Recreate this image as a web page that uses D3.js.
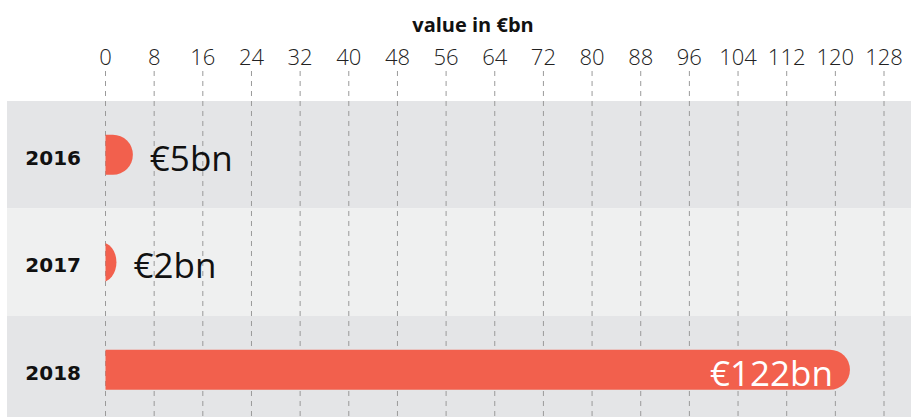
<!DOCTYPE html>
<html>
<head>
<meta charset="utf-8">
<script src="https://cdn.jsdelivr.net/npm/d3@7"></script>
<style>
  html, body { margin: 0; padding: 0; background: #fff; }
  svg { display: block; }
</style>
</head>
<body>
<div id="chart"></div>
<script>
// data
const years = ['2016', '2017', '2018'];
const values = [4.5, 1.8, 122.4];
const valueLabels = ['€5bn', '€2bn', '€122bn'];
const tickValues = [0, 8, 16, 24, 32, 40, 48, 56, 64, 72, 80, 88, 96, 104, 112, 120, 128];

const width = 911;
const height = 417;
const barColor = '#f2604d';
const bandColors = ['#e4e5e7', '#eff0f0'];
const barH = 40;
const r = barH / 2;

const svg = d3.select('#chart').append('svg')
    .attr('width', width)
    .attr('height', height);

const x = d3.scaleLinear().domain([0, 128]).range([105.5, 884]);
const y = d3.scaleBand().domain(years).range([101, 423.5]).padding(0);

// row bands
svg.append('g').selectAll('rect')
    .data(years)
    .enter()
    .append('rect')
    .attr('x', 7)
    .attr('y', d => y(d))
    .attr('width', width - 7)
    .attr('height', y.bandwidth())
    .attr('fill', (d, i) => bandColors[i % 2]);

// dashed gridlines
svg.append('g').selectAll('line')
    .data(tickValues)
    .enter()
    .append('line')
    .attr('x1', d => x(d))
    .attr('x2', d => x(d))
    .attr('y1', 71)
    .attr('y2', height)
    .attr('stroke', '#9a9a9a')
    .attr('stroke-width', 1)
    .attr('stroke-dasharray', '5,5');

// tick labels
svg.append('g').selectAll('text')
    .data(tickValues)
    .enter()
    .append('text')
    .attr('x', d => x(d))
    .attr('y', 65)
    .attr('text-anchor', 'middle')
    .style('font-family', "'Open Sans', sans-serif")
    .style('font-weight', '300')
    .style('font-size', '22px')
    .style('fill', '#222')
    .text(d => d);

// axis title
svg.append('text')
    .attr('x', 473)
    .attr('y', 32)
    .attr('text-anchor', 'middle')
    .style('font-family', "'Open Sans', sans-serif")
    .style('font-weight', '700')
    .style('font-size', '20px')
    .style('fill', '#111')
    .text('value in €bn');

// clip so rounded bars start flat at zero
svg.append('defs').append('clipPath')
    .attr('id', 'zero-clip')
    .append('rect')
    .attr('x', x(0))
    .attr('y', 0)
    .attr('width', width)
    .attr('height', height);

const rows = years.map((yr, i) => ({ yr, v: values[i], label: valueLabels[i] }));

svg.append('g')
    .attr('clip-path', 'url(#zero-clip)')
    .selectAll('rect')
    .data(rows)
    .enter()
    .append('rect')
    .attr('x', x(0) - r)
    .attr('y', d => y(d.yr) + y.bandwidth() / 2 - r)
    .attr('width', d => x(d.v) - x(0) + r)
    .attr('height', barH)
    .attr('rx', r)
    .attr('fill', barColor);

// year labels
svg.append('g').selectAll('text')
    .data(rows)
    .enter()
    .append('text')
    .attr('x', 81)
    .attr('y', d => y(d.yr) + y.bandwidth() / 2)
    .attr('dy', '0.5em')
    .attr('text-anchor', 'end')
    .style('font-family', "'DejaVu Sans', sans-serif")
    .style('font-weight', '700')
    .style('font-size', '20px')
    .style('fill', '#111')
    .text(d => d.yr);

// value labels: inside the bar when it is long, else to its right
svg.append('g').selectAll('text')
    .data(rows)
    .enter()
    .append('text')
    .attr('x', d => d.v > 20 ? x(d.v) - 17 : x(d.v) + 17)
    .attr('y', d => y(d.yr) + y.bandwidth() / 2)
    .attr('dy', '0.45em')
    .attr('text-anchor', d => d.v > 20 ? 'end' : 'start')
    .style('font-family', "'Open Sans', sans-serif")
    .style('font-size', '35px')
    .style('fill', d => d.v > 20 ? '#fff' : '#111')
    .text(d => d.label);
</script>
</body>
</html>
